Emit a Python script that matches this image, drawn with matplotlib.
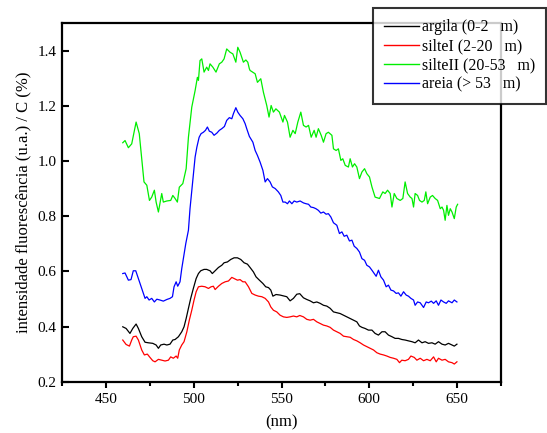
import matplotlib
matplotlib.use("Agg")
import matplotlib.pyplot as plt
from matplotlib.ticker import MultipleLocator

plt.rcParams['font.family'] = ['Liberation Serif', 'DejaVu Serif']

# ---- data ----
x_argila = [459.6, 461.5, 463.7, 465.3, 467.2, 468.5, 470.4, 472.3, 474.2, 476.7, 478.6, 479.9,
            481.2, 483.1, 484.7, 486.5, 488.1, 489.4, 491.3, 493.2, 494.5, 495.7, 497.0, 498.3,
            499.8, 501.4, 502.7, 504.0, 505.9, 507.4, 509.3, 510.6, 512.2, 514.1, 516.0, 517.3,
            519.2, 521.1, 523.0, 524.9, 526.8, 528.7, 530.6, 532.1, 534.0, 535.5, 537.4, 539.4,
            541.0, 542.6, 543.9, 545.1, 546.9, 549.2, 551.1, 553.0, 554.9, 556.8, 558.7, 560.4,
            562.5, 564.4, 566.3, 568.2, 570.1, 572.0, 573.9, 575.8, 577.7, 579.6, 581.5, 583.4,
            585.3, 587.2, 589.1, 591.0, 592.9, 594.4, 595.8, 597.6, 599.5, 601.5, 603.3, 605.2,
            607.2, 609.0, 610.9, 612.9, 614.7, 616.6, 618.5, 620.4, 622.3, 624.3, 626.1, 628.0,
            630.0, 631.8, 633.7, 635.7, 637.5, 639.4, 641.4, 643.2, 645.1, 647.1, 648.4, 649.9]
y_argila = [0.399, 0.393, 0.375, 0.393, 0.409, 0.393, 0.363, 0.343, 0.341, 0.339, 0.333, 0.321,
            0.333, 0.336, 0.333, 0.336, 0.351, 0.353, 0.363, 0.381, 0.399, 0.429, 0.466, 0.502,
            0.538, 0.574, 0.592, 0.602, 0.607, 0.607, 0.602, 0.592, 0.602, 0.614, 0.622, 0.631,
            0.634, 0.643, 0.649, 0.649, 0.643, 0.631, 0.626, 0.614, 0.598, 0.580, 0.568, 0.556,
            0.544, 0.541, 0.532, 0.510, 0.516, 0.514, 0.511, 0.508, 0.493, 0.502, 0.517, 0.519,
            0.504, 0.498, 0.493, 0.486, 0.489, 0.484, 0.477, 0.474, 0.466, 0.453, 0.450, 0.447,
            0.441, 0.435, 0.429, 0.423, 0.417, 0.402, 0.397, 0.393, 0.387, 0.387, 0.375, 0.369,
            0.381, 0.381, 0.369, 0.363, 0.357, 0.357, 0.353, 0.351, 0.348, 0.345, 0.341, 0.351,
            0.341, 0.345, 0.339, 0.341, 0.336, 0.345, 0.336, 0.333, 0.339, 0.333, 0.329, 0.336]

x_silte1 = [459.6, 461.5, 463.4, 464.7, 465.6, 467.2, 468.5, 470.4, 471.9, 473.6, 475.1, 476.7,
            478.0, 479.9, 481.8, 483.7, 485.6, 486.9, 488.4, 490.0, 490.9, 491.8, 493.2, 494.5,
            496.1, 497.5, 498.9, 500.2, 501.4, 502.7, 504.6, 506.5, 508.4, 509.9, 511.2, 512.2,
            514.1, 516.0, 517.9, 519.8, 521.7, 523.0, 524.9, 526.4, 528.0, 529.3, 531.2, 533.1,
            535.0, 536.9, 538.8, 540.7, 542.6, 543.9, 545.4, 547.3, 549.2, 551.1, 553.0, 554.9,
            556.8, 558.7, 560.4, 562.5, 564.4, 566.3, 568.2, 570.1, 572.0, 573.9, 575.8, 577.7,
            579.6, 581.5, 583.4, 585.3, 587.2, 589.1, 591.0, 592.9, 594.8, 596.7, 598.6, 600.5,
            602.4, 604.3, 606.2, 608.1, 610.0, 611.9, 613.8, 615.7, 617.2, 618.5, 620.4, 622.3,
            623.7, 625.6, 627.1, 629.0, 630.9, 632.8, 634.7, 636.6, 638.1, 639.4, 641.4, 643.2,
            645.1, 647.1, 648.4, 649.9]
y_silte1 = [0.351, 0.335, 0.329, 0.351, 0.363, 0.365, 0.351, 0.315, 0.297, 0.300, 0.288, 0.276,
            0.272, 0.281, 0.278, 0.275, 0.278, 0.290, 0.285, 0.293, 0.285, 0.315, 0.333, 0.345,
            0.381, 0.423, 0.459, 0.496, 0.526, 0.544, 0.546, 0.544, 0.538, 0.544, 0.546, 0.534,
            0.546, 0.556, 0.562, 0.565, 0.578, 0.574, 0.568, 0.570, 0.562, 0.562, 0.544, 0.520,
            0.514, 0.510, 0.508, 0.502, 0.489, 0.471, 0.459, 0.453, 0.441, 0.435, 0.433, 0.435,
            0.438, 0.435, 0.440, 0.435, 0.426, 0.423, 0.426, 0.417, 0.411, 0.405, 0.402, 0.397,
            0.387, 0.381, 0.375, 0.365, 0.363, 0.361, 0.353, 0.348, 0.341, 0.333, 0.327, 0.321,
            0.315, 0.305, 0.300, 0.297, 0.293, 0.288, 0.285, 0.281, 0.269, 0.278, 0.276, 0.281,
            0.293, 0.288, 0.278, 0.285, 0.276, 0.281, 0.276, 0.290, 0.272, 0.285, 0.278, 0.281,
            0.272, 0.269, 0.264, 0.272]

x_silte2 = [459.6, 460.9, 462.8, 464.7, 467.2, 469.0, 471.7, 473.3, 474.8, 476.1, 477.6, 478.6,
            479.9, 481.8, 482.7, 484.7, 486.9, 488.1, 489.4, 490.7, 491.8, 493.8, 495.7, 497.0,
            498.9, 500.8, 502.1, 502.7, 503.6, 504.6, 505.9, 507.4, 508.4, 509.3, 510.9, 512.7,
            514.6, 516.0, 517.3, 518.8, 520.7, 522.3, 524.0, 525.1, 526.4, 528.3, 529.7, 530.8,
            531.7, 532.1, 535.0, 536.3, 538.2, 539.7, 541.6, 542.9, 544.1, 545.4, 546.8, 548.8,
            550.8, 551.7, 553.4, 554.9, 556.5, 557.8, 559.3, 561.0, 562.5, 564.0, 565.4, 566.9,
            568.6, 569.7, 571.0, 572.6, 573.9, 575.4, 576.7, 578.7, 579.6, 581.1, 582.4, 583.8,
            584.9, 586.3, 588.1, 589.1, 590.4, 591.6, 592.9, 594.4, 595.8, 597.3, 598.6, 600.1,
            601.5, 603.3, 605.8, 607.7, 609.0, 610.4, 611.9, 612.9, 614.2, 615.7, 617.6, 619.1,
            620.4, 621.8, 623.3, 624.3, 625.2, 626.1, 627.5, 628.6, 630.0, 631.3, 632.2, 633.2,
            634.7, 636.0, 637.5, 638.9, 640.4, 641.4, 642.3, 643.2, 644.2, 645.1, 646.1, 647.1,
            648.4, 649.5, 650.3]
y_silte2 = [1.066, 1.074, 1.048, 1.062, 1.141, 1.099, 0.924, 0.912, 0.857, 0.869, 0.894, 0.851,
            0.815, 0.882, 0.851, 0.855, 0.857, 0.875, 0.864, 0.851, 0.905, 0.918, 0.972, 1.086,
            1.195, 1.255, 1.303, 1.292, 1.364, 1.370, 1.322, 1.340, 1.328, 1.352, 1.340, 1.322,
            1.352, 1.358, 1.370, 1.406, 1.394, 1.388, 1.358, 1.412, 1.394, 1.358, 1.366, 1.358,
            1.334, 1.328, 1.316, 1.285, 1.298, 1.249, 1.201, 1.159, 1.201, 1.177, 1.189, 1.177,
            1.141, 1.165, 1.141, 1.086, 1.111, 1.099, 1.141, 1.177, 1.129, 1.123, 1.129, 1.086,
            1.111, 1.086, 1.117, 1.093, 1.068, 1.099, 1.104, 1.093, 1.044, 1.038, 1.044, 1.002,
            1.008, 0.984, 0.978, 1.008, 0.978, 0.990, 0.978, 0.936, 0.960, 0.972, 0.954, 0.942,
            0.906, 0.869, 0.864, 0.888, 0.882, 0.894, 0.882, 0.833, 0.882, 0.864, 0.857, 0.864,
            0.924, 0.882, 0.869, 0.864, 0.833, 0.882, 0.875, 0.857, 0.851, 0.857, 0.888, 0.845,
            0.869, 0.875, 0.864, 0.857, 0.827, 0.833, 0.821, 0.785, 0.839, 0.803, 0.827, 0.815,
            0.791, 0.833, 0.843]

x_areia = [459.6, 460.9, 462.8, 464.3, 465.6, 467.0, 468.5, 470.4, 472.3, 473.3, 474.6, 476.1,
           477.6, 479.0, 480.8, 482.7, 484.7, 486.5, 487.9, 488.8, 490.0, 490.9, 492.2, 493.2,
           494.1, 495.5, 497.0, 497.9, 499.5, 500.8, 501.8, 503.1, 504.2, 505.5, 506.7, 507.8,
           508.9, 510.3, 511.6, 513.2, 514.6, 516.0, 517.5, 518.8, 520.3, 521.7, 522.6, 524.0,
           525.1, 526.4, 528.0, 529.3, 530.2, 531.7, 533.7, 535.0, 536.3, 537.8, 539.4, 540.7,
           542.0, 543.5, 544.8, 546.4, 548.2, 549.6, 550.8, 552.1, 553.4, 554.5, 555.9, 557.2,
           558.7, 560.6, 562.5, 564.0, 565.4, 566.7, 568.2, 569.6, 571.0, 572.4, 573.9, 575.4,
           576.7, 578.1, 579.6, 581.5, 583.0, 584.4, 585.7, 587.2, 588.7, 590.1, 591.4, 592.9,
           594.4, 595.8, 597.3, 598.6, 600.1, 601.5, 602.8, 603.9, 605.2, 606.6, 608.1, 609.6,
           610.9, 612.3, 613.8, 615.3, 616.6, 618.0, 619.5, 621.0, 622.3, 623.7, 625.2, 626.1,
           627.5, 629.0, 630.9, 632.4, 633.7, 635.3, 636.6, 638.1, 639.4, 640.8, 642.3, 643.8,
           645.1, 647.1, 648.4, 649.9]
y_areia = [0.592, 0.594, 0.568, 0.570, 0.602, 0.602, 0.574, 0.538, 0.502, 0.508, 0.496, 0.502,
           0.489, 0.499, 0.496, 0.492, 0.498, 0.502, 0.508, 0.544, 0.562, 0.546, 0.562, 0.610,
           0.646, 0.701, 0.749, 0.827, 0.930, 1.014, 1.050, 1.086, 1.099, 1.104, 1.111, 1.123,
           1.108, 1.104, 1.093, 1.101, 1.111, 1.117, 1.125, 1.147, 1.157, 1.153, 1.171, 1.193,
           1.177, 1.165, 1.153, 1.135, 1.117, 1.089, 1.068, 1.038, 1.020, 0.996, 0.966, 0.924,
           0.936, 0.924, 0.906, 0.900, 0.888, 0.875, 0.851, 0.851, 0.845, 0.855, 0.845, 0.855,
           0.851, 0.855, 0.848, 0.845, 0.843, 0.833, 0.831, 0.827, 0.821, 0.811, 0.815, 0.807,
           0.809, 0.797, 0.776, 0.767, 0.737, 0.743, 0.727, 0.731, 0.710, 0.713, 0.691, 0.683,
           0.670, 0.646, 0.640, 0.622, 0.616, 0.604, 0.592, 0.582, 0.604, 0.580, 0.568, 0.544,
           0.550, 0.532, 0.529, 0.520, 0.522, 0.510, 0.526, 0.514, 0.510, 0.502, 0.496, 0.477,
           0.489, 0.486, 0.469, 0.489, 0.486, 0.492, 0.484, 0.493, 0.477, 0.496, 0.489, 0.484,
           0.493, 0.486, 0.496, 0.489]

labels = ["argila (0-2   m)", "silteI (2-20   m)", "silteII (20-53   m)", "areia (> 53   m)"]
colors = ["#000000", "#ff0000", "#00ee00", "#0000ff"]
x_ticks = [450, 500, 550, 600, 650]
y_ticks = [0.2, 0.4, 0.6, 0.8, 1.0, 1.2, 1.4]

# ---- figure ----
fig = plt.figure(figsize=(5.47, 4.33), dpi=100)
ax = fig.add_axes([62/547, 1 - 381.7/433, (501 - 62)/547, (381.7 - 23)/433])

series = [(x_argila, y_argila), (x_silte1, y_silte1), (x_silte2, y_silte2), (x_areia, y_areia)]
for (xs, ys), lab, col in zip(series, labels, colors):
    ax.plot(xs, ys, color=col, lw=0.9, label=lab)

ax.set_xlim(425, 675)
ax.set_ylim(0.2, 1.5)
ax.set_xticks(x_ticks)
ax.xaxis.set_minor_locator(MultipleLocator(25))
ax.set_yticks(y_ticks)
ax.set_yticklabels([f"{v:.1f}" for v in y_ticks])

for s in ax.spines.values():
    s.set_linewidth(1.6)
ax.tick_params(axis='x', which='major', direction='out', length=4, width=1.5, labelsize=11, pad=4)
ax.tick_params(axis='x', which='minor', direction='out', length=3, width=1.5)
ax.tick_params(axis='y', which='major', direction='in', length=5, width=1.5, labelsize=11, pad=4)

ax.set_xlabel("(nm)", fontsize=12, labelpad=6)
ax.set_ylabel("intensidade fluorescência (u.a.) / C (%)", fontsize=12, labelpad=4)

leg = fig.legend(loc='upper left', bbox_to_anchor=(373/547, 1 - 8/433),
                 bbox_transform=fig.transFigure, fontsize=11.4, frameon=True, fancybox=False,
                 handlelength=2.2, handletextpad=0.2, labelspacing=0.2, borderpad=0.7,
                 borderaxespad=0)
leg.get_frame().set_edgecolor('black')
leg.get_frame().set_linewidth(1.5)
for ln in leg.get_lines():
    ln.set_linewidth(1.0)

fig.savefig("out.png", dpi=100)
